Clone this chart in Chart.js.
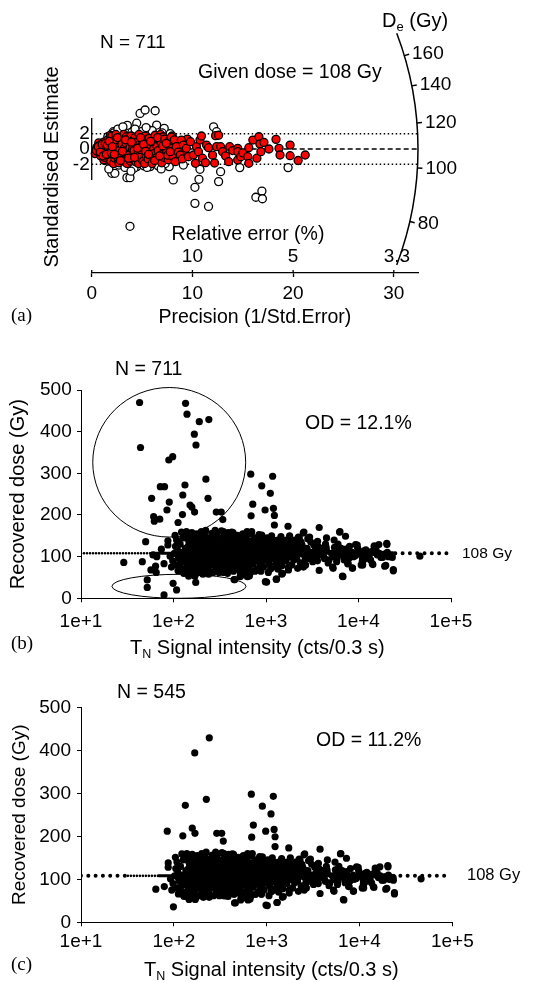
<!DOCTYPE html>
<html>
<head>
<meta charset="utf-8">
<script src="https://cdn.jsdelivr.net/npm/chart.js@4.4.1/dist/chart.umd.min.js"></script>
<style>
  body { margin: 0; background: #fff; }
  canvas { position: absolute; left: 0; }
</style>
</head>
<body>
<canvas id="radial" width="549" height="330" style="top:0"></canvas>
<canvas id="allGrains" width="549" height="330" style="top:330px"></canvas>
<canvas id="keptGrains" width="549" height="322" style="top:660px"></canvas>
<script>
const sansFont = '"Liberation Sans", Arial, sans-serif';
const serifFont = '"Liberation Serif", "Times New Roman", serif';

// radial plot: [precision, standardised estimate]
const radialAccepted = [
  [0.35,-0.6],[0.5,0.2],[0.6,-0.3],[0.7,0.8],[0.8,0.5],[0.9,-0.9],[1.0,0.1],[1.1,-0.5],[1.2,0.9],[1.2,-1.4],[1.3,-1.1],[1.4,0.3],[1.5,-0.2],
  [1.6,1.2],[1.65,0.0],[1.7,-0.8],[1.8,0.4],[1.85,1.8],[1.9,-1.6],[2.0,1.7],[2.1,-0.3],[2.15,-1.9],[2.2,0.9],[2.3,-1.2],[2.35,0.5],[2.4,1.9],
  [2.45,1.0],[2.5,-0.6],[2.6,0.2],[2.65,-1.4],[2.7,-1.8],[2.75,-0.2],[2.8,1.3],[2.9,-0.9],[2.95,1.6],[3.0,0.6],
  [3.1,-1.5],[3.2,1.9],[3.25,0.1],[3.3,-0.4],[3.4,0.8],[3.45,1.6],[3.5,-1.9],[3.55,-0.6],[3.6,1.3],[3.7,-0.8],[3.8,0.2],[3.85,-1.6],[3.9,1.7],
  [4.0,-1.3],[4.05,-0.1],[4.1,0.5],[4.15,1.1],[4.2,-0.2],[4.3,1.5],[4.4,-1.7],[4.45,-0.9],[4.5,0.9],[4.6,-0.6],[4.65,-1.9],[4.7,1.9],[4.75,0.6],
  [4.8,-1.1],[4.9,0.3],[5.0,1.2],[5.1,-1.6],[5.2,0.1],[5.25,-1.9],[5.3,1.7],[5.4,-0.8],[5.45,1.2],[5.5,0.7],[5.6,-1.3],[5.7,1.4],[5.8,-0.3],
  [5.9,0.5],[5.95,-0.9],[6.0,-1.9],[6.1,1.1],[6.15,0.0],[6.2,-0.6],[6.3,1.8],[6.4,-1.2],[6.45,0.9],[6.5,0.3],[6.6,-0.2],[6.7,1.3],[6.8,-1.5],
  [6.85,1.9],[6.9,0.8],[6.95,-1.8],[7.0,-0.7],[7.1,1.6],[7.2,-1.1],[7.3,0.2],[7.45,-0.3],[7.5,1.0],[7.6,-1.4],[7.7,0.5],[7.9,-0.5],[8.0,1.7],
  [0.45,-0.2],[0.65,0.3],[0.85,-0.4],[1.05,0.6],[1.15,-0.9],[1.35,0.7],[1.45,-0.7],[1.55,0.5],[1.75,1.0],[1.95,-0.5],[2.05,0.3],[2.25,-0.7],
  [2.55,1.5],[2.85,-1.5],[3.05,-0.3],[3.35,1.2],[3.65,-1.2],[3.95,0.9],[4.25,-1.1],[4.55,0.1],[4.85,1.5],[5.15,0.6],[5.35,-0.3],[5.65,-0.7],
  [5.85,1.0],[6.25,-1.5],[6.55,1.5],[6.75,-0.9],[7.05,0.4],[7.25,1.3],[7.55,-0.8],[7.75,1.1],[8.1,-1.0],[8.5,0.9],[8.7,-1.2],[9.2,-0.3],[9.5,1.3],
  [7.4,0.74],[7.8,-0.35],[7.9,1.57],[8.2,1.2],[8.3,-1.65],[8.4,0.3],[8.6,-0.4],[8.8,-0.78],[8.9,1.17],[9.0,-1.3],[9.1,0.5],[9.4,0.09],
  [9.6,-1.0],[9.8,0.96],[10.1,-0.78],[10.3,-1.87],[10.4,0.3],[10.6,-0.35],[10.75,1.17],[10.9,1.7],[11.0,-1.2],[11.3,-1.78],[11.4,0.52],
  [11.6,0.17],[12.0,-0.8],[12.2,-1.83],[12.3,1.74],[12.4,0.3],[12.6,1.8],[12.8,0.3],[13.0,-0.35],[13.3,-0.9],[13.6,-1.65],[13.7,0.3],
  [14.0,-0.2],[14.5,0.09],[14.5,-0.35],[14.5,-1.43],[14.8,-1.0],[15.0,-0.5],[15.5,-1.0],[15.6,0.17],[15.6,-1.87],[16.0,1.17],[16.4,-1.2],
  [16.6,1.6],[16.7,0.65],[16.8,-0.35],[17.1,0.87],[17.6,0],[18.3,1.26],[18.6,0.09],[18.7,-0.78],[19.7,0.52],[19.7,-0.87],[20.5,-1.5],[21.2,-0.78]
];
const radialRejected = [
  [4.8,4.65],[5.3,5.1],[6.3,5.0],[4.47,3.37],[3.54,3.1],[5.7,2.48],[6.45,3.13],[7.2,2.7],[2.15,2.26],[2.3,1.83],[12.1,2.9],[12.4,2.26],
  [2.0,-3.17],[2.3,-3.17],[2.7,-2.1],[3.5,-3.74],[3.8,-3.74],[4.47,-2.3],[5.2,-2.2],[5.8,-2.3],[7.7,-2.3],[8.1,-4.04],[9.1,-2.1],
  [10.75,-2.65],[10.65,-3.96],[10.25,-5.0],[12.8,-2.96],[12.6,-4.26],[10.25,-7.1],[11.6,-7.5],[14.7,-2.43],[16.3,-6.3],[16.9,-5.5],
  [16.95,-6.5],[19.5,-2.43],[3.8,-10.1],[1.3,-1.5],[1.6,1.6],[1.9,-2.0],[2.2,2.1],[3.0,2.3],[3.3,-2.4],[4.0,2.2],[4.2,-2.5],[5.0,2.3],
  [5.5,-2.4],[6.0,2.4],[6.6,-2.2],[7.0,2.1],[7.3,-1.9],[7.8,2.0],[2.6,2.6],[3.9,-2.9],[5.4,2.8],[6.9,-2.6],[1.7,-2.6],[3.1,2.9],[4.3,2.6]
];
const precisionTicks = [0, 10, 20, 30];
const estimateTicks = [-2, 0, 2];
const estimateAxisSpan = [-4.05, 4.05];
const relErrorTicks = [10, 5, 3.3];
const deTicks = [80, 100, 120, 140, 160];
const arcDoseRange = [65.5, 178];
const givenDose = 108;

// recovered dose vs T_N signal: [signal, dose]
const keptGrains = [
  [241,429],[168,394],[224,286],[133,272],[684,298],[1180,293],[899,270],[1114,252],[719,226],[977,212],[1203,216],[1232,199],
  [690,198],[1232,176],[1730,173],[3760,170],[85,212],[125,201],[158,219],[169,207],[290,207],[328,207],[341,189],[6300,160],
  [2570,159],[7240,149],[20200,132],[14800,126],[4510,145],[9300,129],[23800,69],[6710,53],[19700,79],[10700,80],[11000,89],
  [14100,83],[46100,101],[7730,83],[8600,73],[5250,75],[3760,67],[984,40],[1300,46],[1510,60],[460,45],[384,60],[99,36],[64,77],
  [79,83],[95,75],[547,56],[630,52],[171,56],[138,60],[127,63],[16600,129],[11500,114],[18200,98],[23200,98],[5690,114],[2960,147],
  [2290,145],[3610,137],[841,153],[1247,137],[1663,140],[2110,137],[2830,143],[4470,122],[5660,119],[624,160],[492,151],[2530,157],
  [2240,147],[6240,159],[5450,140],[3530,134],[12000,116],[87,138],[87,128],[104,151],[122,159],[142,157],[184,151],[223,163],
  [282,163],[347,160],[427,159],[357,62],[451,45],[525,52],[215,64],[146,53],[129,60],[120,72],[92,101],[102,108],[170,53],
  [1016,39],[1290,46],[1480,58],[1125,71],[614,58],[663,54],[532,57],[3730,106],[2680,80],[2540,75],[5320,72],[7650,83],[8610,72],
  [6790,52],[9690,128],[14800,124],[20300,129],[19200,77],[23800,66],[14300,81],[11100,88],[11100,80],
  [110,118],[115,95],[98,90],[106,80],[118,130],[124,110],[112,66],[122,86],
  [130,150],[135,120],[140,100],[142,80],[145,140],[150,65],[155,112],[160,92],[165,130],[170,75],[175,105],[180,145],[185,85],
  [190,120],[195,98],[200,68],[205,135],[210,110],[215,88],[220,150],[225,125],[230,78],[235,102],[240,140],[245,92],[250,115],
  [138,160],[158,158],[178,155],[188,62],[208,58],[228,62],[132,88],[148,132],[168,108],[198,125],[218,100],[238,70],[248,130],
  [142,110],[162,70],[172,140],[192,80],[212,148],[232,118],[152,98],[182,115],[202,90],
  [255,85],[262,140],[270,100],[278,120],[285,75],[292,155],[300,110],[308,90],[316,130],[325,68],[333,145],[342,100],[350,118],
  [360,82],[370,135],[380,95],[390,158],[400,112],[412,72],[424,128],[436,88],[448,148],[460,105],[472,120],[485,78],[498,138],
  [512,96],[526,116],[540,60],[555,150],[570,90],[585,108],[600,128],[615,82],[630,140],[268,62],[290,128],[312,105],[338,80],
  [365,115],[395,92],[420,150],[445,65],[470,98],[500,125],[530,85],[560,112],[590,70],[620,100],[275,148],[305,72],[355,152],
  [405,130],[455,82],[505,105],[545,132],[595,118],[258,112],[288,95],[322,118],[348,62],[378,105],[410,90],[440,110],[480,140],
  [520,75],[575,135],[610,95],[382,70],[432,100],[492,88],[282,108],[330,92],[398,78],[468,130],[535,102],[265,128],[318,84],
  [372,146],[428,116],[490,110],[550,90],[605,148],
  [650,120],[680,95],[700,138],[720,82],[745,110],[770,130],[800,70],[825,100],[850,145],[880,88],[910,118],[940,75],[970,105],
  [1000,132],[1040,92],[1080,122],[1120,78],[1160,110],[1200,140],[1250,98],[1300,118],[1350,85],[1400,128],[1450,105],[1500,92],
  [1550,135],[660,72],[690,155],[730,100],[760,65],[790,122],[830,112],[860,80],[900,135],[950,95],[990,115],[1030,145],[1070,85],
  [1110,130],[1150,95],[1190,75],[1240,125],[1290,100],[1340,140],[1390,90],[1440,115],[1490,78],[1540,108],[710,125],[780,90],
  [870,105],[960,125],[1060,108],[1180,118],[1320,108],[1470,125],[640,108],[750,145],[920,108],[1100,100],[1280,82],[1420,98],
  [1600,115],[1650,90],[1700,130],[1780,100],[1850,122],[1900,80],[1980,110],[2050,140],[2150,95],[2250,118],[2350,85],[2450,128],
  [2550,105],[2650,92],[2780,120],[2900,100],[3050,135],[3200,88],[3350,112],[3500,98],[3650,125],[3800,105],[1620,138],[1750,75],
  [1920,102],[2100,125],[2300,108],[2500,80],[2700,112],[3000,95],[3300,128],[3600,90],[3900,115],[1680,108],[2000,92],[2400,135],
  [2850,108],[3450,118],
  [4200,100],[4500,115],[4800,92],[5100,108],[5500,122],[5900,98],[6300,112],[6800,104],[7300,118],[7900,96],[8500,110],[9200,102],
  [10000,114],[11000,98],[12000,106],[13000,100],[14500,110],[16000,104],[17500,98],[19000,106],[21000,100],[23000,104],[4400,130],
  [5800,88],[7000,92],[9800,120],[13500,92],[4700,85],[6000,130],[8000,125],[15500,115],
  [105,125],[108,140],[113,100],[117,78],[126,145],[128,95],[134,105],[136,70],[144,125],[147,88],[153,145],[156,76],[163,118],
  [166,85],[174,128],[177,92],[183,135],[187,100],[194,110],[196,140],[203,78],[207,120],[214,130],[217,72],[222,95],[227,140],
  [233,88],[237,125],[243,105],[247,80],[252,145],[260,95],[267,120],[273,80],[280,135],[287,110],[295,88],[302,140],[310,122],
  [320,100],[328,130],[336,115],[345,75],[352,132],[362,100],[375,122],[385,112],[393,138],[402,95],[415,108],[427,88],[438,135],
  [450,120],[463,92],[476,105],[488,150],[502,115],[515,132],[530,118],[548,100],[565,140],[580,92],[598,105],[618,125],[635,88],
  [655,135],[672,110],[695,100],[715,115],[738,130],[762,95],[785,108],[812,140],[838,95],[865,125],[895,112],[925,90],[955,140],
  [985,100],[1015,120],[1050,110],[1090,140],[1130,118],[1170,95],[1220,112],[1270,135],[1330,95],[1380,115],[1430,140],[1480,100],
  [1530,120],[1580,95],[1640,125],[1720,112],[1800,135],[1880,100],[1960,125],[2200,105],[2600,120],[3100,110],[3400,100],[4000,120],
  [4300,95],[5300,100],[6500,120],[7600,106],[8800,100],[10500,106],[11800,95],[13800,112],[16800,108],[20500,110],
  [160,60],[240,58],[310,62],[430,70],[520,66],[680,62],[880,65],[1060,62],[1350,70],[1750,68],[2200,72],
  [150,155],[200,160],[260,156],[330,162],[440,158],[560,155],[700,160],[900,152],[1150,150],[1450,148],[1800,150]
];
// grains only in the full set of 711
const rejectedGrains = [
  [43,470],[135,468],[140,442],[190,424],[175,368],[44,362],[89,332],[98,340],[72,268],[80,268],[58,240],[126,248],[236,240],
  [90,231],[151,224],[61,196],[71,190],[62,185],[112,182],[50,136],[29,86],[46,88],[52,44],[52,26],[79,8],[108,20],[174,38],
  [65,62],[57,68],[66,100],[74,118],[60,104]
];
const signalTicks = [10, 100, 1000, 10000, 100000];
const doseTicks = [0, 100, 200, 300, 400, 500];
// marked groups in the full set: [signal min, signal max], [dose min, dose max]
const upperRing = { signal: [13.4, 603], dose: [147, 506] };
const lowerRing = { signal: [21.6, 608], dose: [0, 57.6] };
// 108 Gy reference line break points and their styles
const refLineAll = { signal: [10, 60, 25000, 94000], style: ['fine', 'solid', 'wide'] };
const refLineKept = { signal: [10, 32, 69, 23000, 94000], style: ['wide', 'fine', 'solid', 'wide'] };

const lineStyles = {
  fine: { dash: [0, 3], width: 2.6 },
  wide: { dash: [0, 7.3], width: 4 },
  solid: { dash: [], width: 3 }
};

Chart.defaults.font.family = sansFont;
Chart.defaults.font.size = 19;
Chart.defaults.color = '#000';
Chart.defaults.animation = false;
Chart.defaults.plugins.legend.display = false;
Chart.defaults.plugins.tooltip.enabled = false;

const toXY = pts => pts.map(p => ({ x: p[0], y: p[1] }));

function text(ctx, str, x, y, size, align, family) {
  ctx.font = size + 'px ' + (family || sansFont);
  ctx.textAlign = align || 'left';
  ctx.textBaseline = 'middle';
  ctx.fillText(str, x, y);
}

// ---------- (a) radial plot ----------
const radialExtras = {
  id: 'radialExtras',
  afterDraw(chart) {
    const { ctx, scales: { x, y } } = chart;
    const ox = x.getPixelForValue(0), oy = y.getPixelForValue(0);
    const pxX = x.getPixelForValue(1) - ox;
    const pxY = oy - y.getPixelForValue(1);
    const z0 = Math.log(givenDose);
    const angleOf = d => Math.atan((Math.log(d) - z0) * pxY / pxX);
    const R = x.getPixelForValue(32.4) - ox;

    ctx.save();
    ctx.strokeStyle = '#000';
    ctx.fillStyle = '#000';

    ctx.lineWidth = 1.3;
    ctx.beginPath();
    ctx.moveTo(ox, y.getPixelForValue(estimateAxisSpan[1]));
    ctx.lineTo(ox, y.getPixelForValue(estimateAxisSpan[0]));
    ctx.stroke();

    // precision ticks also reach above the axis line
    precisionTicks.forEach(v => {
      const px = x.getPixelForValue(v);
      ctx.beginPath();
      ctx.moveTo(px, chart.chartArea.bottom);
      ctx.lineTo(px, chart.chartArea.bottom - 3);
      ctx.stroke();
    });

    // dose arc with its ticks
    ctx.lineWidth = 1.5;
    ctx.beginPath();
    ctx.arc(ox, oy, R, -angleOf(arcDoseRange[1]), -angleOf(arcDoseRange[0]));
    ctx.stroke();
    deTicks.forEach(d => {
      const a = angleOf(d);
      ctx.beginPath();
      ctx.moveTo(ox + R * Math.cos(a), oy - R * Math.sin(a));
      ctx.lineTo(ox + (R + 5) * Math.cos(a), oy - (R + 5) * Math.sin(a));
      ctx.stroke();
      text(ctx, String(d), ox + (R + 8) * Math.cos(a), oy - (R + 8) * Math.sin(a), 19);
    });
    ctx.font = '20px ' + sansFont;
    const wD = ctx.measureText('D').width;
    text(ctx, 'D', 382, 21, 20);
    text(ctx, 'e', 382 + wD, 27, 13);
    ctx.font = '13px ' + sansFont;
    const we = ctx.measureText('e').width;
    text(ctx, ' (Gy)', 382 + wD + we, 21, 20);

    // relative error scale above the precision axis
    relErrorTicks.forEach(r => text(ctx, String(r), x.getPixelForValue(100 / r), 257, 19, 'center'));
    text(ctx, 'Relative error (%)', 248, 235, 19.5, 'center');

    text(ctx, 'N = 711', 100, 43, 19);
    text(ctx, 'Given dose = ' + givenDose + ' Gy', 198, 73, 19.5);
    text(ctx, '(a)', 11, 316, 19, 'left', serifFont);
    ctx.restore();
  }
};

new Chart(document.getElementById('radial'), {
  type: 'scatter',
  data: {
    datasets: [
      { data: toXY(radialAccepted), pointRadius: 4, pointBackgroundColor: '#ff0000', pointBorderColor: '#000', pointBorderWidth: 1.3, clip: false },
      { data: toXY(radialRejected), pointRadius: 4, pointBackgroundColor: '#fff', pointBorderColor: '#000', pointBorderWidth: 1.3, clip: false },
      { type: 'line', data: [{ x: 0, y: 2 }, { x: 32.4, y: 2 }], borderColor: '#000', borderWidth: 1.5, borderDash: [1.5, 2.5], pointRadius: 0 },
      { type: 'line', data: [{ x: 0, y: 0 }, { x: 32.4, y: 0 }], borderColor: '#000', borderWidth: 1.5, borderDash: [5, 3], pointRadius: 0 },
      { type: 'line', data: [{ x: 0, y: -2 }, { x: 32.4, y: -2 }], borderColor: '#000', borderWidth: 1.5, borderDash: [1.5, 2.5], pointRadius: 0 }
    ]
  },
  options: {
    responsive: false,
    layout: { padding: { left: 0, right: 131, top: 61, bottom: 0.6 } },
    scales: {
      x: {
        type: 'linear', min: 0, max: 32.4,
        afterBuildTicks: s => { s.ticks = precisionTicks.map(v => ({ value: v })); },
        afterFit: s => { s.height = 56.4; },
        ticks: { padding: 5, maxRotation: 0, autoSkip: false },
        grid: { drawOnChartArea: false, tickLength: 4, color: '#000', tickWidth: 1.3 },
        border: { color: '#000', width: 1.3 },
        title: { display: true, text: 'Precision (1/Std.Error)', font: { size: 19.5 }, padding: { top: 0, bottom: 0 } }
      },
      y: {
        type: 'linear', min: -16.2, max: 11.5,
        afterBuildTicks: s => { s.ticks = estimateTicks.map(v => ({ value: v })); },
        afterFit: s => { s.width = 91.7; },
        ticks: { padding: 2, autoSkip: false },
        grid: { display: false, drawTicks: false },
        border: { display: false },
        title: { display: true, text: 'Standardised Estimate', font: { size: 20 }, padding: { top: 40, bottom: 0 } }
      }
    }
  },
  plugins: [radialExtras]
});

// ---------- (b), (c) recovered dose vs signal ----------
function refLineDataset(line) {
  return {
    type: 'line',
    data: line.signal.map(s => ({ x: s, y: givenDose })),
    borderColor: '#000',
    borderCapStyle: 'round',
    pointRadius: 0,
    borderWidth: 3,
    segment: {
      borderDash: c => lineStyles[line.style[c.p0DataIndex]].dash,
      borderWidth: c => lineStyles[line.style[c.p0DataIndex]].width
    }
  };
}

function dosePanel(id, grains, refLine, o) {
  const extras = {
    id: 'doseExtras_' + id,
    afterDraw(chart) {
      const { ctx, scales: { x, y } } = chart;
      ctx.save();
      ctx.fillStyle = '#000';
      ctx.strokeStyle = '#000';
      ctx.lineWidth = 1;
      (o.rings || []).forEach(r => {
        const x0 = x.getPixelForValue(r.signal[0]), x1 = x.getPixelForValue(r.signal[1]);
        const y0 = y.getPixelForValue(r.dose[0]), y1 = y.getPixelForValue(r.dose[1]);
        ctx.beginPath();
        ctx.ellipse((x0 + x1) / 2, (y0 + y1) / 2, (x1 - x0) / 2, (y0 - y1) / 2, 0, 0, Math.PI * 2);
        ctx.stroke();
      });
      text(ctx, o.n, o.nPos[0], o.nPos[1], 19.5);
      text(ctx, o.od, o.odPos[0], o.odPos[1], 19.5);
      text(ctx, givenDose + ' Gy', o.refLabelX, y.getPixelForValue(givenDose), o.refLabelSize);
      text(ctx, o.tag, 11, o.tagY, 19, 'left', serifFont);
      // x axis title with subscript
      let tx = o.titlePos[0];
      const ty = o.titlePos[1];
      text(ctx, 'T', tx, ty, 20);
      ctx.font = '20px ' + sansFont;
      tx += ctx.measureText('T').width;
      text(ctx, 'N', tx, ty + 7, 12.5);
      ctx.font = '12.5px ' + sansFont;
      tx += ctx.measureText('N').width;
      text(ctx, ' Signal intensity (cts/0.3 s)', tx, ty, 20);
      ctx.restore();
    }
  };

  return new Chart(document.getElementById(id), {
    type: 'scatter',
    data: {
      datasets: [
        { data: toXY(grains), pointRadius: 3.6, pointBackgroundColor: '#000', pointBorderWidth: 0, clip: false },
        refLineDataset(refLine)
      ]
    },
    options: {
      responsive: false,
      layout: { padding: o.padding },
      scales: {
        x: {
          type: 'logarithmic', min: 10, max: 100000,
          afterBuildTicks: s => { s.ticks = signalTicks.map(v => ({ value: v })); },
          afterFit: s => { s.height = o.xHeight; },
          ticks: { callback: v => '1e+' + Math.round(Math.log10(v)), padding: o.xPad, maxRotation: 0, autoSkip: false },
          grid: { drawOnChartArea: false, tickLength: 4, color: '#000' },
          border: { color: '#000' }
        },
        y: {
          type: 'linear', min: 0, max: 500,
          afterBuildTicks: s => { s.ticks = doseTicks.map(v => ({ value: v })); },
          afterFit: s => { s.width = 81; },
          ticks: { padding: o.yPad, autoSkip: false },
          grid: { drawOnChartArea: false, tickLength: 4, color: '#000' },
          border: { color: '#000' },
          title: { display: true, text: 'Recovered dose (Gy)', font: { size: o.yTitleSize }, padding: { top: o.yTitlePad, bottom: 0 } }
        }
      }
    },
    plugins: [extras]
  });
}

dosePanel('allGrains', keptGrains.concat(rejectedGrains), refLineAll, {
  padding: { left: 0, right: 98, top: 60, bottom: 0.6 },
  xHeight: 61.1, xPad: 8, yPad: 5.3, yTitleSize: 20, yTitlePad: 6,
  rings: [upperRing, lowerRing],
  n: 'N = 711', nPos: [115, 40], od: 'OD = 12.1%', odPos: [305, 94],
  refLabelX: 462, refLabelSize: 15.5, tag: '(b)', tagY: 314, titlePos: [130, 318]
});

dosePanel('keptGrains', keptGrains, refLineKept, {
  padding: { left: 0, right: 96.7, top: 47.3, bottom: 0 },
  xHeight: 59.7, xPad: 4, yPad: 6, yTitleSize: 19, yTitlePad: 8.6,
  n: 'N = 545', nPos: [117, 33], od: 'OD = 11.2%', odPos: [316, 81],
  refLabelX: 467, refLabelSize: 16.5, tag: '(c)', tagY: 305, titlePos: [144, 310]
});
</script>
</body>
</html>
